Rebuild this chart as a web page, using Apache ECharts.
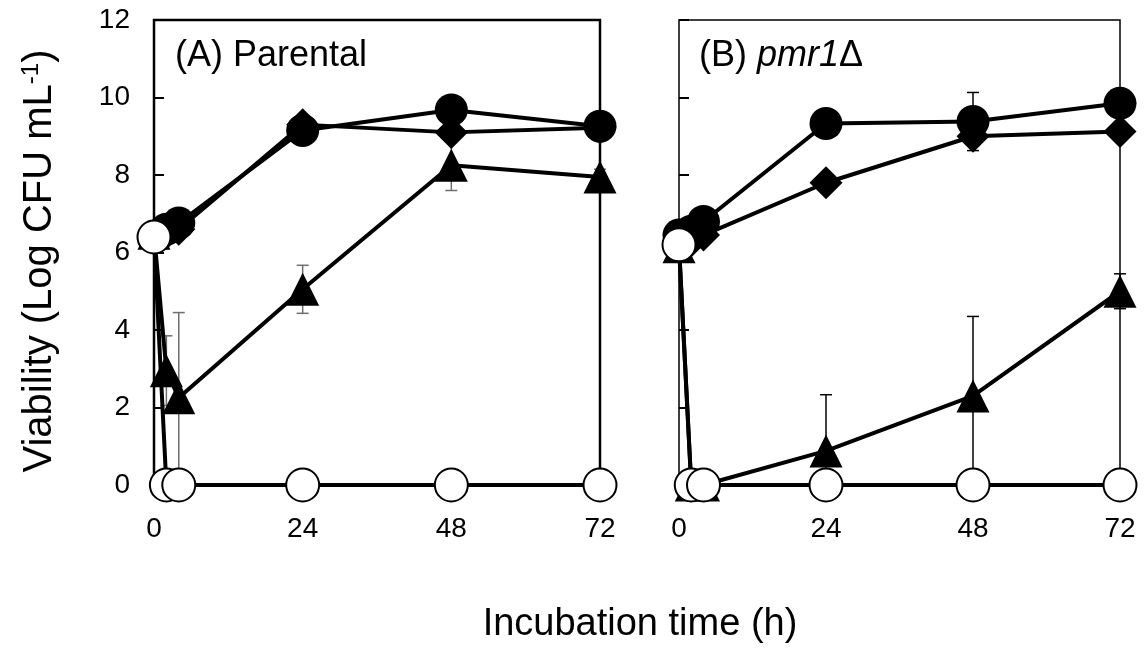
<!DOCTYPE html>
<html>
<head>
<meta charset="utf-8">
<script src="https://cdn.jsdelivr.net/npm/echarts@6/dist/echarts.min.js"></script>
<style>
  html, body { margin: 0; padding: 0; background: #fff; }
  #chart { width: 1144px; height: 653px; }
</style>
</head>
<body>
<div id="chart"></div>
<script>
// sampling times (h)
const hours = [0, 2, 4, 24, 48, 72];
const xTicks = [0, 24, 48, 72];

// (A) Parental
const parentalCircle   = [6.4, 6.6, 6.76, 9.15, 9.68, 9.26];
const parentalDiamond  = [6.4, 6.5, 6.6, 9.3, 9.1, 9.22];
const parentalTriangle = [6.5, 2.95, 2.25, 5.05, 8.25, 7.95];
const parentalOpen     = [6.4, 0, 0, 0, 0, 0];
const parentalTriangleErr = [0, 0.9, 2.2, 0.62, 0.65, 0.2];

// (B) pmr1Δ
const mutantCircle   = [6.45, 6.55, 6.8, 9.33, 9.38, 9.85];
const mutantDiamond  = [6.3, 6.3, 6.45, 7.8, 9.0, 9.12];
const mutantTriangle = [6.15, 0, 0, 0.88, 2.3, 5.0];
const mutantOpen     = [6.2, 0, 0, 0, 0, 0];
const mutantCircleErr   = [0, 0, 0, 0, 0.75, 0];
const mutantDiamondErr  = [0, 0, 0, 0.15, 0.1, 0];
const mutantTriangleErr = [0, 0, 0, 1.45, 2.05, 0.45];

const FONT = '"Liberation Sans", Arial, sans-serif';

function pts(vals) {
  return hours.map((h, i) => [h, vals[i]]);
}

function lineSeries(vals, symbol, size, fill, idx) {
  return {
    type: 'line',
    xAxisIndex: idx,
    yAxisIndex: idx,
    data: pts(vals),
    symbol: symbol,
    symbolSize: size,
    showAllSymbol: true,
    clip: false,
    lineStyle: { color: '#000', width: 4 },
    itemStyle: {
      color: fill,
      borderColor: '#000',
      borderWidth: fill === '#fff' ? 2 : 0,
      opacity: 1
    },
    emphasis: { disabled: true },
    z: 3
  };
}

// error bars, lower end stops at 0 (no cap there)
function errSeries(vals, errs, color, idx) {
  const data = hours.map((h, i) => [h, vals[i], errs[i]]).filter(d => d[2] > 0);
  return {
    type: 'custom',
    xAxisIndex: idx,
    yAxisIndex: idx,
    data: data,
    clip: false,
    z: 1,
    renderItem: function (params, api) {
      const x = api.value(0), y = api.value(1), e = api.value(2);
      const low = y - e;
      const hi = api.coord([x, y + e]);
      const lo = api.coord([x, Math.max(0, low)]);
      const st = { stroke: color, lineWidth: 1.5 };
      const cap = 6;
      const kids = [
        { type: 'line', shape: { x1: hi[0], y1: hi[1], x2: lo[0], y2: lo[1] }, style: st },
        { type: 'line', shape: { x1: hi[0] - cap, y1: hi[1], x2: hi[0] + cap, y2: hi[1] }, style: st }
      ];
      if (low > 0) {
        kids.push({ type: 'line', shape: { x1: lo[0] - cap, y1: lo[1], x2: lo[0] + cap, y2: lo[1] }, style: st });
      }
      return { type: 'group', children: kids };
    }
  };
}

function xAxis(idx) {
  return {
    type: 'value', gridIndex: idx, min: 0, max: 72, interval: 24,
    axisLine: { show: false },
    axisTick: { show: false },
    splitLine: { show: false },
    axisLabel: {
      color: '#000', fontSize: 28, fontFamily: FONT, margin: 30,
      formatter: v => xTicks.indexOf(v) >= 0 ? String(v) : ''
    }
  };
}

function yAxis(idx, labels) {
  return {
    type: 'value', gridIndex: idx, min: 0, max: 12, interval: 2,
    axisLine: { show: false },
    axisTick: { show: true, inside: true, length: 10, lineStyle: { color: '#000', width: 2 } },
    splitLine: { show: false },
    axisLabel: { show: labels, color: '#000', fontSize: 28, fontFamily: FONT, margin: 24 }
  };
}

const chart = echarts.init(document.getElementById('chart'));
chart.setOption({
  animation: false,
  backgroundColor: '#fff',
  grid: [
    { left: 154, top: 20, width: 446, height: 465, show: true, borderColor: '#000', borderWidth: 2.5 },
    { left: 679, top: 20, width: 441, height: 465, show: true, borderColor: '#000', borderWidth: 1.5 }
  ],
  xAxis: [xAxis(0), xAxis(1)],
  yAxis: [yAxis(0, true), yAxis(1, false)],
  graphic: [
    {
      type: 'text', left: 175, top: 38, z: 10,
      style: { text: '(A) Parental', font: '36px ' + FONT, fill: '#000' }
    },
    {
      type: 'text', left: 699, top: 38, z: 10,
      style: {
        text: '(B) {it|pmr1}Δ', font: '36px ' + FONT, fill: '#000',
        rich: { it: { fontStyle: 'italic', fontSize: 36, fontFamily: FONT } }
      }
    },
    {
      type: 'text', x: 40, y: 261, rotation: Math.PI / 2, z: 10,
      style: {
        text: 'Viability (Log CFU mL{sup|-1})', font: '40px ' + FONT, fill: '#000',
        align: 'center', verticalAlign: 'middle',
        rich: { sup: { fontSize: 24, fontFamily: FONT, padding: [0, 0, 18, 0] } }
      }
    },
    {
      type: 'text', x: 640, y: 625, z: 10,
      style: {
        text: 'Incubation time (h)', font: '38px ' + FONT, fill: '#000',
        align: 'center', verticalAlign: 'middle'
      }
    }
  ],
  series: [
    errSeries(parentalTriangle, parentalTriangleErr, '#6e6e6e', 0),
    lineSeries(parentalTriangle, 'triangle', 33, '#000', 0),
    lineSeries(parentalDiamond, 'diamond', 33, '#000', 0),
    lineSeries(parentalCircle, 'circle', 33, '#000', 0),
    lineSeries(parentalOpen, 'circle', 33, '#fff', 0),

    errSeries(mutantTriangle, mutantTriangleErr, '#000', 1),
    errSeries(mutantDiamond, mutantDiamondErr, '#000', 1),
    errSeries(mutantCircle, mutantCircleErr, '#000', 1),
    lineSeries(mutantTriangle, 'triangle', 33, '#000', 1),
    lineSeries(mutantDiamond, 'diamond', 33, '#000', 1),
    lineSeries(mutantCircle, 'circle', 33, '#000', 1),
    lineSeries(mutantOpen, 'circle', 33, '#fff', 1)
  ]
});
</script>
</body>
</html>
